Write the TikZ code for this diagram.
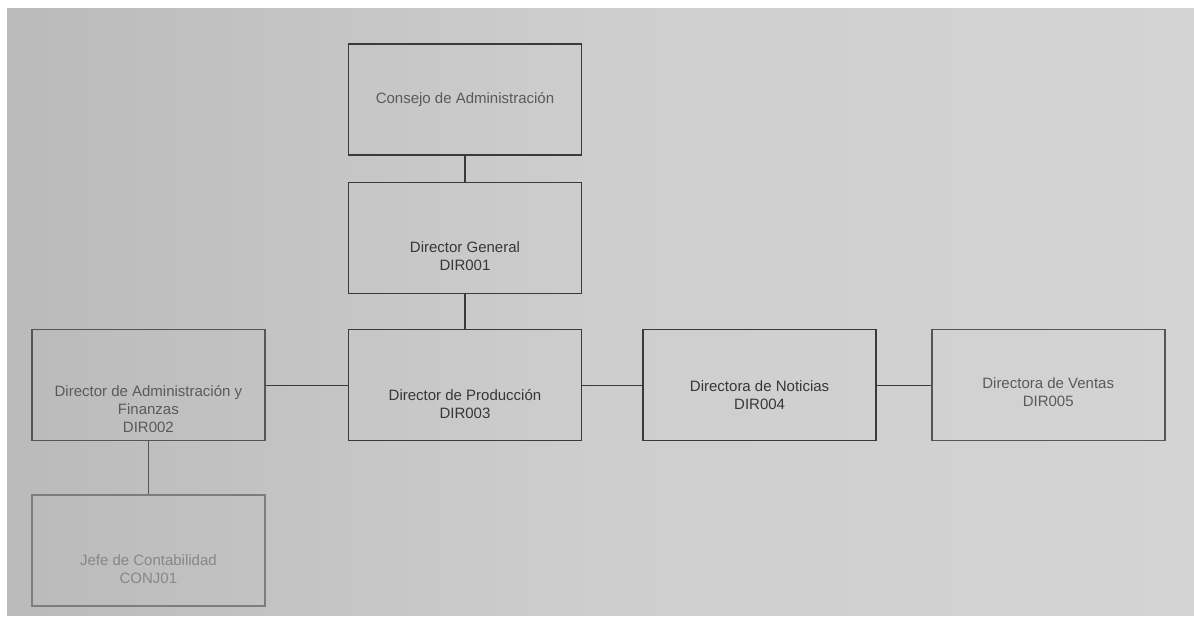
\documentclass[tikz,border=0pt]{standalone}
\usepackage{fontspec}
\setmainfont{Liberation Sans}
\usetikzlibrary{positioning}
\definecolor{bgleft}{RGB}{186, 186, 186}
\definecolor{bgmid}{RGB}{206, 206, 206}
\definecolor{bgright}{RGB}{212, 212, 212}
\definecolor{linedark}{RGB}{58, 58, 58}
\definecolor{linemid}{RGB}{85, 85, 85}
\definecolor{linelight}{RGB}{125, 125, 125}
\definecolor{txtdark}{RGB}{55, 55, 55}
\definecolor{txtmid}{RGB}{90, 90, 90}
\definecolor{txtlight}{RGB}{135, 135, 135}
\tikzset{
  box/.style={draw=linedark, line width=0.8pt, rectangle,
    minimum width=116.5pt, minimum height=55.5pt, inner sep=0pt},
  lbl/.style={text=txtdark, font=\fontsize{7.5}{9}\selectfont, align=center},
  link/.style={draw=linedark, line width=0.6pt},
}

\begin{document}
\begin{tikzpicture}[x=0.5pt, y=-0.5pt, node distance=13pt and 30pt]
  \useasboundingbox (0,0) rectangle (1194,617);
  \fill[white] (0,0) rectangle (1194,617);
  \shade[left color=bgleft, right color=bgright, middle color=bgmid] (7,8) rectangle (1194,615);

  \node[box, label={[lbl, text=txtmid]center:Consejo de Administración}] (consejo) at (465,99.5) {};
  \node[box, below=of consejo, label={[lbl, yshift=-9.25pt]center:Director General\\DIR001}] (dg) {};
  \node[box, below=17.2pt of dg, label={[lbl, yshift=-9.25pt]center:Director de Producción\\DIR003}] (prod) {};
  \node[box, draw=linemid, left=41pt of prod, label={[lbl, text=txtmid, yshift=-11.75pt]center:Director de Administración y\\Finanzas\\DIR002}] (admin) {};
  \node[box, draw=linelight, below=26.5pt of admin, label={[lbl, text=txtlight, yshift=-9pt]center:Jefe de Contabilidad\\CONJ01}] (jefe) {};
  \node[box, right=of prod, label={[lbl, yshift=-5pt]center:Directora de Noticias\\DIR004}] (noticias) {};
  \node[box, draw=linemid, right=27pt of noticias, label={[lbl, text=txtmid, yshift=-3.75pt]center:Directora de Ventas\\DIR005}] (ventas) {};

  \draw[link] (consejo) -- (dg);
  \draw[link] (dg) -- (prod);
  \draw[link] (admin) -- (prod);
  \draw[link] (prod) -- (noticias);
  \draw[link] (noticias) -- (ventas);
  \draw[link, draw=linemid] (admin) -- (jefe);
\end{tikzpicture}
\end{document}
